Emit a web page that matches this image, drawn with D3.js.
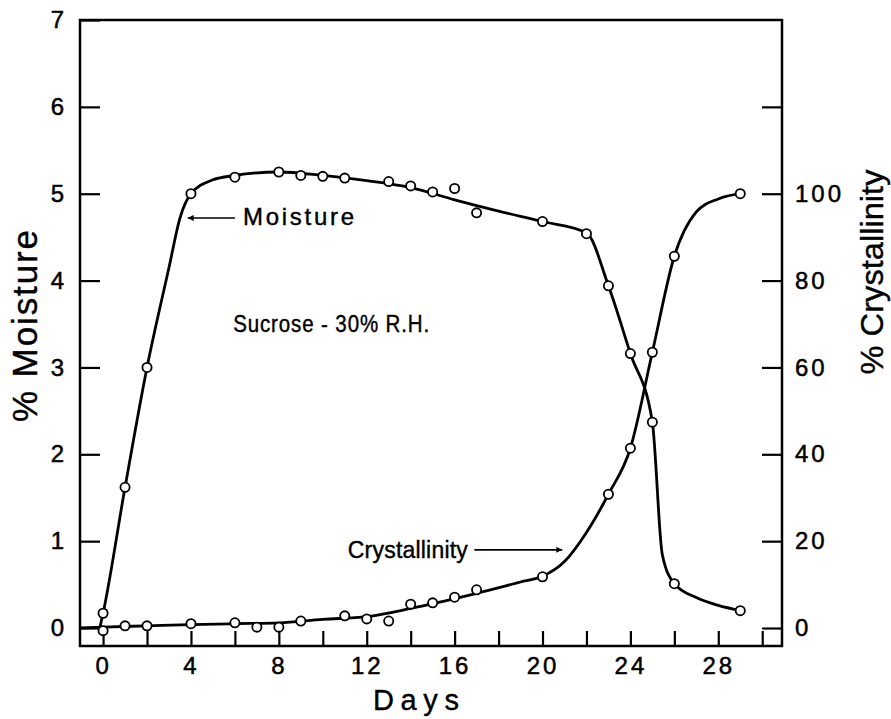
<!DOCTYPE html>
<html>
<head>
<meta charset="utf-8">
<script src="https://cdn.jsdelivr.net/npm/d3@7.9.0/dist/d3.min.js"></script>
<style>
  body { margin: 0; background: #fff; }
  svg { font-family: "Liberation Sans", Arial, sans-serif; }
</style>
</head>
<body>
<svg id="chart" width="891" height="719"></svg>
<script>
// measured points
const moistureDays = [0, 1, 2, 4, 6, 8, 9, 10, 11, 13, 14, 15, 16, 17, 20, 22, 23, 24, 25, 26, 29];
const moistureValues = [0.17, 1.62, 3.0, 5.0, 5.19, 5.25, 5.21, 5.2, 5.18, 5.14, 5.09, 5.02, 5.06, 4.78, 4.68, 4.54, 3.94, 3.16, 2.37, 0.51, 0.2];

const crystDays = [0, 1, 2, 4, 6, 7, 8, 9, 11, 12, 13, 14, 15, 16, 17, 20, 23, 24, 25, 26, 29];
const crystValues = [-0.6, 0.5, 0.5, 1.0, 1.2, 0.2, 0.2, 1.6, 2.8, 2.1, 1.6, 5.5, 5.8, 7.1, 8.8, 11.8, 30.8, 41.4, 63.5, 85.6, 100];

// hand-drawn curves (day, value)
const moistureCurve = [
  [-0.15, 0.0], [0, 0.17], [1, 1.62], [2, 3.0], [3, 4.15], [3.5, 4.72], [4, 5.0], [5, 5.16],
  [6, 5.21], [8, 5.25], [10, 5.21], [12, 5.15], [14, 5.07], [16, 4.93], [18, 4.8],
  [20, 4.68], [22, 4.55], [23, 3.94], [24, 3.16], [25, 2.37], [25.45, 0.85],
  [26, 0.51], [27, 0.35], [28, 0.26], [29, 0.2]
];
const crystCurve = [
  [-1.05, 0], [0, 0.2], [2, 0.5], [4, 0.8], [6, 1.0], [8, 1.2], [10, 2.0], [12, 2.6],
  [14, 4.5], [15, 5.6], [17, 8.0], [19, 10.6], [20, 11.9], [21, 15.3], [22, 22],
  [23, 30.8], [24, 41.4], [25, 63.5], [26, 85.6], [27, 95.8], [28, 98.8], [29, 100]
];

const dayTicks = d3.range(0, 31, 2);
const moistureTicks = [0, 1, 2, 3, 4, 5, 6, 7];
const crystTicks = [0, 20, 40, 60, 80, 100, 120];

const svg = d3.select('#chart');

const frame = { left: 80, right: 782, top: 20, bottom: 646 };

const x = d3.scaleLinear().domain([-1.05, 30.9]).range([frame.left, frame.right]);
const y = d3.scaleLinear().domain([-0.207, 7]).range([frame.bottom, frame.top]);
// 100 % crystallinity sits on the 5 % moisture line
const yc = d3.scaleLinear().domain([-0.207 * 20, 140]).range([frame.bottom, frame.top]);

// axes, ticks drawn inward
const xAxis = d3.axisBottom(x)
  .tickValues(dayTicks)
  .tickSize(-15)
  .tickPadding(11)
  .tickFormat((d) => (d % 4 === 0 && d <= 28 ? d : ''));

svg.append('g')
  .attr('transform', `translate(0,${frame.bottom})`)
  .call(xAxis)
  .call((g) => g.select('.domain').remove());

svg.append('g')
  .attr('transform', `translate(${frame.left},0)`)
  .call(d3.axisLeft(y).tickValues(moistureTicks).tickSize(-20).tickPadding(13))
  .call((g) => g.select('.domain').remove());

svg.append('g')
  .attr('transform', `translate(${frame.right},0)`)
  .call(d3.axisRight(yc).tickValues(crystTicks).tickSize(-20).tickPadding(13)
    .tickFormat((d) => (d <= 100 ? d : '')))
  .call((g) => g.select('.domain').remove());

svg.selectAll('.tick line').attr('stroke', '#000').attr('stroke-width', 2.2);
svg.selectAll('.tick text')
  .attr('fill', '#000')
  .attr('stroke', '#000')
  .attr('stroke-width', 0.5)
  .style('font-size', '24px')
  .style('letter-spacing', '3px');

// frame
svg.append('rect')
  .attr('x', frame.left)
  .attr('y', frame.top)
  .attr('width', frame.right - frame.left)
  .attr('height', frame.bottom - frame.top)
  .attr('fill', 'none')
  .attr('stroke', '#000')
  .attr('stroke-width', 2.5);

// curves
const line = d3.line().x((d) => x(d[0])).curve(d3.curveMonotoneX);

svg.append('path')
  .datum(moistureCurve)
  .attr('d', line.y((d) => y(d[1])))
  .attr('fill', 'none')
  .attr('stroke', '#000')
  .attr('stroke-width', 2.8);

svg.append('path')
  .datum(crystCurve)
  .attr('d', line.y((d) => yc(d[1])))
  .attr('fill', 'none')
  .attr('stroke', '#000')
  .attr('stroke-width', 2.8);

// points
svg.append('g')
  .selectAll('circle')
  .data(moistureDays.map((d, i) => [d, moistureValues[i]]))
  .join('circle')
  .attr('cx', (d) => x(d[0]))
  .attr('cy', (d) => y(d[1]))
  .attr('r', 4.6)
  .attr('fill', '#fff')
  .attr('stroke', '#000')
  .attr('stroke-width', 1.8);

svg.append('g')
  .selectAll('circle')
  .data(crystDays.map((d, i) => [d, crystValues[i]]))
  .join('circle')
  .attr('cx', (d) => x(d[0]))
  .attr('cy', (d) => yc(d[1]))
  .attr('r', 4.6)
  .attr('fill', '#fff')
  .attr('stroke', '#000')
  .attr('stroke-width', 1.8);

// arrowheads
const defs = svg.append('defs');
defs.append('marker')
  .attr('id', 'head')
  .attr('viewBox', '0 0 10 10')
  .attr('refX', 10)
  .attr('refY', 5)
  .attr('markerWidth', 11)
  .attr('markerHeight', 6)
  .attr('markerUnits', 'userSpaceOnUse')
  .attr('orient', 'auto')
  .append('path')
  .attr('d', 'M0,0L10,5L0,10Z')
  .attr('fill', '#000');

// annotations
const label = (sel) => sel.attr('stroke', '#000').attr('stroke-width', 0.4);

svg.append('line')
  .attr('x1', x(6.0)).attr('y1', y(4.72))
  .attr('x2', x(3.85)).attr('y2', y(4.72))
  .attr('stroke', '#000').attr('stroke-width', 1.6)
  .attr('marker-end', 'url(#head)');

svg.append('text')
  .attr('x', x(6.37)).attr('y', y(4.64))
  .attr('textLength', 111)
  .attr('lengthAdjust', 'spacing')
  .style('font-size', '24px')
  .call(label)
  .text('Moisture');

svg.append('line')
  .attr('x1', x(16.9)).attr('y1', y(0.9))
  .attr('x2', x(20.9)).attr('y2', y(0.9))
  .attr('stroke', '#000').attr('stroke-width', 1.6)
  .attr('marker-end', 'url(#head)');

svg.append('text')
  .attr('x', x(16.6)).attr('y', y(0.81))
  .attr('text-anchor', 'end')
  .attr('textLength', 120)
  .attr('lengthAdjust', 'spacing')
  .style('font-size', '23px')
  .call(label)
  .text('Crystallinity');

svg.append('text')
  .attr('x', x(5.92)).attr('y', y(3.41))
  .attr('textLength', 197)
  .attr('lengthAdjust', 'spacingAndGlyphs')
  .style('font-size', '23px')
  .style('letter-spacing', '1px')
  .call(label)
  .text('Sucrose - 30% R.H.');

// axis titles
svg.append('text')
  .attr('transform', `translate(37,${326}) rotate(-90)`)
  .attr('text-anchor', 'middle')
  .attr('textLength', 192)
  .attr('lengthAdjust', 'spacing')
  .style('font-size', '35px')
  .call(label)
  .text('% Moisture');

svg.append('text')
  .attr('transform', `translate(883,${272}) rotate(-90)`)
  .attr('text-anchor', 'middle')
  .attr('textLength', 205)
  .attr('lengthAdjust', 'spacingAndGlyphs')
  .style('font-size', '32px')
  .call(label)
  .text('% Crystallinity');

svg.append('text')
  .attr('x', 416).attr('y', 710)
  .attr('text-anchor', 'middle')
  .attr('textLength', 86)
  .attr('lengthAdjust', 'spacing')
  .style('font-size', '29px')
  .call(label)
  .text('Days');
</script>
</body>
</html>
